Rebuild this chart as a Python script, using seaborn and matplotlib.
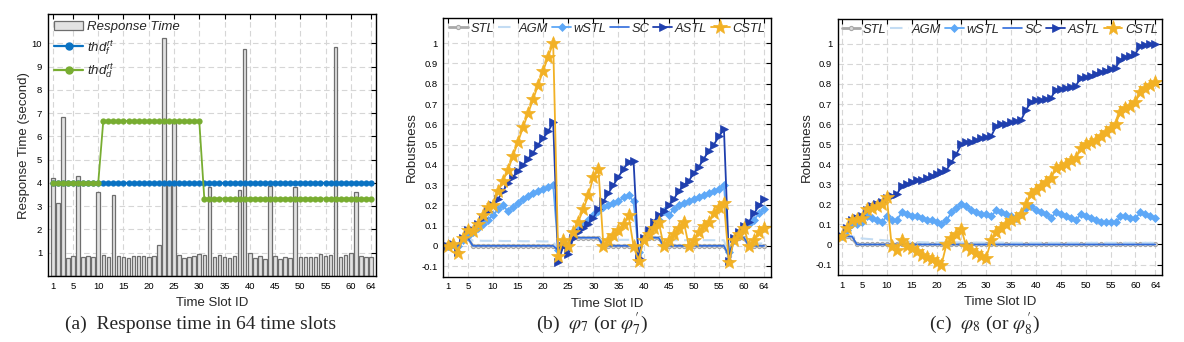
import matplotlib
matplotlib.use("Agg")
import matplotlib.pyplot as plt
import seaborn as sns
from matplotlib.patches import Patch
from matplotlib.lines import Line2D

sns.set_style("white")
plt.rcParams["font.family"] = ["Liberation Sans", "DejaVu Sans"]
plt.rcParams["mathtext.fontset"] = "custom"
plt.rcParams["mathtext.rm"] = "Liberation Sans"
plt.rcParams["mathtext.it"] = "Liberation Sans:italic"
plt.rcParams["mathtext.bf"] = "Liberation Sans:bold"

# ---------------- data ----------------
slots = list(range(1, 65))
xtick_vals = [1, 5, 10, 15, 20, 25, 30, 35, 40, 45, 50, 55, 60, 64]

response_time = [4.2, 3.13, 6.85, 0.77, 0.85, 4.3, 0.83, 0.87, 0.83, 3.6,
                 0.9, 0.83, 3.48, 0.87, 0.83, 0.78, 0.87, 0.87, 0.87, 0.83,
                 0.87, 1.33, 10.25, 4.0, 6.65, 0.91, 0.78, 0.83, 0.86, 0.95,
                 0.9, 3.82, 0.82, 0.9, 0.82, 0.78, 0.85, 3.68, 9.78, 0.97,
                 0.78, 0.85, 0.75, 3.87, 0.85, 0.74, 0.82, 0.78, 3.82, 0.82,
                 0.82, 0.82, 0.82, 0.94, 0.85, 0.9, 9.83, 0.82, 0.9, 0.98,
                 3.63, 0.85, 0.8, 0.8]

thd_f = [4.0, 4.0, 4.0, 4.0, 4.0, 4.0, 4.0, 4.0, 4.0, 4.0,
         4.0, 4.0, 4.0, 4.0, 4.0, 4.0, 4.0, 4.0, 4.0, 4.0,
         4.0, 4.0, 4.0, 4.0, 4.0, 4.0, 4.0, 4.0, 4.0, 4.0,
         4.0, 4.0, 4.0, 4.0, 4.0, 4.0, 4.0, 4.0, 4.0, 4.0,
         4.0, 4.0, 4.0, 4.0, 4.0, 4.0, 4.0, 4.0, 4.0, 4.0,
         4.0, 4.0, 4.0, 4.0, 4.0, 4.0, 4.0, 4.0, 4.0, 4.0,
         4.0, 4.0, 4.0, 4.0]

thd_d = [4.0, 4.0, 4.0, 4.0, 4.0, 4.0, 4.0, 4.0, 4.0, 4.0,
         6.67, 6.67, 6.67, 6.67, 6.67, 6.67, 6.67, 6.67, 6.67, 6.67,
         6.67, 6.67, 6.67, 6.67, 6.67, 6.67, 6.67, 6.67, 6.67, 6.67,
         3.33, 3.33, 3.33, 3.33, 3.33, 3.33, 3.33, 3.33, 3.33, 3.33,
         3.33, 3.33, 3.33, 3.33, 3.33, 3.33, 3.33, 3.33, 3.33, 3.33,
         3.33, 3.33, 3.33, 3.33, 3.33, 3.33, 3.33, 3.33, 3.33, 3.33,
         3.33, 3.33, 3.33, 3.33]

rob_ticks = [-0.1, 0, 0.1, 0.2, 0.3, 0.4, 0.5, 0.6, 0.7, 0.8, 0.9, 1]
rob_tick_labels = ["-0.1", "0", "0.1", "0.2", "0.3", "0.4", "0.5", "0.6", "0.7", "0.8", "0.9", "1"]

# (b) phi_7
b_stl = [0.0, 0.0, 0.0, 0.04, 0.04, 0.0, 0.0, 0.0, 0.0, 0.0,
         0.0, 0.0, 0.0, 0.0, 0.0, 0.0, 0.0, 0.0, 0.0, 0.0,
         0.0, 0.0, -0.02, 0.0, -0.02, 0.04, 0.04, 0.04, 0.04, 0.04,
         0.04, 0.0, 0.0, 0.0, 0.0, 0.0, 0.0, 0.0, -0.05, 0.04,
         0.04, 0.04, 0.04, 0.0, 0.0, 0.0, 0.0, 0.0, 0.0, 0.0,
         0.0, 0.0, 0.0, 0.0, 0.0, 0.0, -0.05, 0.04, 0.04, 0.04,
         0.0, 0.0, 0.0, 0.0]
b_agm = [0.0, 0.005, 0.0, 0.04, 0.04, 0.026, 0.026, 0.025, 0.025, 0.025,
         0.025, 0.024, 0.024, 0.024, 0.024, 0.023, 0.023, 0.023, 0.023, 0.022,
         0.022, 0.022, -0.02, 0.01, 0.0, 0.04, 0.04, 0.04, 0.04, 0.04,
         0.04, 0.03, 0.03, 0.03, 0.03, 0.03, 0.03, 0.03, -0.05, 0.04,
         0.04, 0.04, 0.04, 0.028, 0.028, 0.028, 0.028, 0.028, 0.028, 0.028,
         0.028, 0.028, 0.028, 0.028, 0.028, 0.028, -0.05, 0.04, 0.04, 0.04,
         0.012, 0.012, 0.012, 0.012]
b_wstl = [0.0, 0.01, 0.0, 0.03, 0.05, 0.07, 0.09, 0.11, 0.13, 0.15,
          0.18, 0.2, 0.17, 0.19, 0.21, 0.23, 0.245, 0.26, 0.27, 0.28,
          0.29, 0.3, -0.02, 0.02, 0.0, 0.05, 0.08, 0.11, 0.13, 0.15,
          0.17, 0.19, 0.2, 0.21, 0.22, 0.24, 0.25, 0.22, -0.03, 0.04,
          0.07, 0.1, 0.13, 0.17, 0.15, 0.18, 0.2, 0.21, 0.22, 0.23,
          0.24, 0.25, 0.26, 0.27, 0.28, 0.3, -0.03, 0.03, 0.06, 0.09,
          0.11, 0.13, 0.16, 0.18]
b_sc = [0.0, 0.0, 0.0, 0.04, 0.04, 0.0, 0.0, 0.0, 0.0, 0.0,
        0.0, 0.0, 0.0, 0.0, 0.0, 0.0, 0.0, 0.0, 0.0, 0.0,
        0.0, 0.0, -0.02, 0.0, -0.02, 0.04, 0.04, 0.04, 0.04, 0.04,
        0.04, 0.0, 0.0, 0.0, 0.0, 0.0, 0.0, 0.0, -0.05, 0.04,
        0.04, 0.04, 0.04, 0.0, 0.0, 0.0, 0.0, 0.0, 0.0, 0.0,
        0.0, 0.0, 0.0, 0.0, 0.0, 0.0, -0.05, 0.04, 0.04, 0.04,
        0.0, 0.0, 0.0, 0.0]
b_astl = [0.0, 0.01, -0.03, 0.04, 0.08, 0.08, 0.11, 0.14, 0.17, 0.2,
          0.23, 0.27, 0.31, 0.34, 0.37, 0.4, 0.43, 0.46, 0.5, 0.53,
          0.565, 0.61, -0.08, 0.0, -0.04, 0.04, 0.07, 0.09, 0.11, 0.14,
          0.18, 0.22, 0.26, 0.3, 0.34, 0.38, 0.415, 0.42, -0.06, 0.04,
          0.08, 0.12, 0.15, 0.17, 0.2, 0.23, 0.27, 0.3, 0.32, 0.36,
          0.39, 0.43, 0.47, 0.5, 0.54, 0.575, -0.075, 0.04, 0.07, 0.1,
          0.12, 0.16, 0.2, 0.23]
b_cstl = [0.0, 0.01, -0.035, 0.04, 0.08, 0.075, 0.11, 0.15, 0.19, 0.2,
          0.27, 0.32, 0.375, 0.444, 0.514, 0.585, 0.654, 0.723, 0.794, 0.863,
          0.934, 1.0, -0.05, 0.03, 0.0, 0.07, 0.12, 0.18, 0.25, 0.34,
          0.38, 0.0, 0.03, 0.055, 0.08, 0.11, 0.15, 0.0, -0.075, 0.03,
          0.06, 0.09, 0.12, 0.0, 0.03, 0.06, 0.09, 0.12, 0.0, 0.03,
          0.07, 0.1, 0.12, 0.16, 0.19, 0.21, -0.08, 0.03, 0.06, 0.09,
          0.0, 0.03, 0.07, 0.09]

# (c) phi_8
c_stl = [0.04, 0.04, 0.03, 0.0, 0.0, 0.0, 0.0, 0.0, 0.0, 0.0,
         0.0, 0.0, 0.0, 0.0, 0.0, 0.0, 0.0, 0.0, 0.0, 0.0,
         0.0, 0.0, 0.0, 0.0, 0.0, 0.0, 0.0, 0.0, 0.0, 0.0,
         0.0, 0.0, 0.0, 0.0, 0.0, 0.0, 0.0, 0.0, 0.0, 0.0,
         0.0, 0.0, 0.0, 0.0, 0.0, 0.0, 0.0, 0.0, 0.0, 0.0,
         0.0, 0.0, 0.0, 0.0, 0.0, 0.0, 0.0, 0.0, 0.0, 0.0,
         0.0, 0.0, 0.0, 0.0]
c_agm = [0.04, 0.04, 0.04, 0.035, 0.03, 0.028, 0.026, 0.024, 0.022, 0.02,
         0.018, 0.016, 0.015, 0.014, 0.013, 0.012, 0.011, 0.01, 0.01, 0.01,
         0.01, 0.01, 0.01, 0.01, 0.01, 0.009, 0.009, 0.009, 0.009, 0.009,
         0.009, 0.009, 0.009, 0.009, 0.009, 0.008, 0.008, 0.008, 0.008, 0.008,
         0.008, 0.008, 0.008, 0.008, 0.008, 0.008, 0.008, 0.008, 0.008, 0.008,
         0.008, 0.008, 0.008, 0.008, 0.008, 0.008, 0.008, 0.008, 0.008, 0.008,
         0.008, 0.008, 0.008, 0.008]
c_wstl = [0.04, 0.07, 0.1, 0.1, 0.11, 0.14, 0.13, 0.12, 0.11, 0.14,
          0.12, 0.12, 0.16, 0.15, 0.14, 0.14, 0.13, 0.12, 0.12, 0.11,
          0.1, 0.12, 0.16, 0.18, 0.2, 0.19, 0.17, 0.16, 0.15, 0.15,
          0.14, 0.17, 0.16, 0.15, 0.14, 0.13, 0.15, 0.18, 0.19, 0.17,
          0.16, 0.15, 0.13, 0.16, 0.15, 0.14, 0.13, 0.12, 0.15, 0.14,
          0.13, 0.12, 0.11, 0.11, 0.11, 0.11, 0.14, 0.14, 0.13, 0.13,
          0.16, 0.15, 0.14, 0.13]
c_sc = [0.04, 0.04, 0.04, 0.0, 0.0, 0.0, 0.0, 0.0, 0.0, 0.0,
        0.0, 0.0, 0.0, 0.0, 0.0, 0.0, 0.0, 0.0, 0.0, 0.0,
        0.0, 0.0, 0.0, 0.0, 0.0, 0.0, 0.0, 0.0, 0.0, 0.0,
        0.0, 0.0, 0.0, 0.0, 0.0, 0.0, 0.0, 0.0, 0.0, 0.0,
        0.0, 0.0, 0.0, 0.0, 0.0, 0.0, 0.0, 0.0, 0.0, 0.0,
        0.0, 0.0, 0.0, 0.0, 0.0, 0.0, 0.0, 0.0, 0.0, 0.0,
        0.0, 0.0, 0.0, 0.0]
c_astl = [0.04, 0.08, 0.12, 0.13, 0.14, 0.17, 0.19, 0.2, 0.21, 0.23,
          0.24, 0.25, 0.29, 0.3, 0.31, 0.32, 0.32, 0.33, 0.34, 0.35,
          0.36, 0.37, 0.41, 0.45, 0.5, 0.51, 0.51, 0.52, 0.53, 0.535,
          0.54, 0.59, 0.6, 0.6, 0.61, 0.615, 0.62, 0.67, 0.71, 0.72,
          0.72, 0.725, 0.73, 0.77, 0.775, 0.78, 0.785, 0.79, 0.83, 0.835,
          0.84, 0.85, 0.86, 0.865, 0.875, 0.88, 0.92, 0.935, 0.94, 0.95,
          0.99, 0.995, 1.0, 1.0]
c_cstl = [0.04, 0.08, 0.12, 0.125, 0.13, 0.175, 0.18, 0.19, 0.2, 0.235,
          -0.01, -0.03, 0.02, -0.01, -0.02, -0.035, -0.05, -0.06, -0.07, -0.085,
          -0.1, 0.0, 0.03, 0.05, 0.075, -0.01, -0.03, -0.045, -0.055, -0.065,
          0.02, 0.06, 0.08, 0.1, 0.12, 0.13, 0.15, 0.2, 0.25, 0.27,
          0.29, 0.31, 0.33, 0.38, 0.39, 0.4, 0.42, 0.43, 0.48, 0.5,
          0.51, 0.52, 0.54, 0.56, 0.58, 0.6, 0.66, 0.68, 0.69, 0.71,
          0.76, 0.78, 0.795, 0.81]

series_names = ["STL", "AGM", "wSTL", "SC", "ASTL", "CSTL"]
series_style = {
    "STL":  dict(color="#A8A8A8", linewidth=2.0, marker="o", markersize=3,
                 markerfacecolor="#D8D8D8", markeredgecolor="#A8A8A8", markeredgewidth=0.8),
    "AGM":  dict(color="#C3DCF3", linewidth=1.5, linestyle=(0, (6, 3))),
    "wSTL": dict(color="#5EA8F7", linewidth=1.3, marker="D", markersize=4,
                 markerfacecolor="#5EA8F7", markeredgecolor="#5EA8F7", markeredgewidth=0.5),
    "SC":   dict(color="#2F6BDB", linewidth=1.2),
    "ASTL": dict(color="#1F3FAE", linewidth=1.3, marker=">", markersize=6,
                 markerfacecolor="#1F3FAE", markeredgecolor="#1F3FAE", markeredgewidth=0.5),
    "CSTL": dict(color="#F2B125", linewidth=1.3, marker="*", markersize=10,
                 markerfacecolor="#F2B125", markeredgecolor="#F2B125", markeredgewidth=0.5),
}

grid_kw = dict(color="#D6D6D6", linestyle=(0, (5, 3)), linewidth=0.8)
tick_fs = 6.8
label_fs = 9.5


def style_axes(ax):
    ax.set_axisbelow(True)
    ax.grid(True, **grid_kw)
    ax.tick_params(direction="in", top=True, right=True, length=3.5, width=0.8,
                   labelsize=tick_fs, pad=4, colors="black")
    for sp in ax.spines.values():
        sp.set_visible(True)
        sp.set_color("black")
        sp.set_linewidth(1.0)
    ax.set_xticks(xtick_vals)
    ax.set_xticklabels([str(v) for v in xtick_vals])
    ax.set_xlabel("Time Slot ID", fontsize=label_fs, labelpad=5)


fig = plt.figure(figsize=(11.84, 3.42), dpi=100)

# ---------------- (a) ----------------
ax_a = fig.add_axes([0.0403, 0.193, 0.2773, 0.765])
sns.barplot(x=slots, y=response_time, native_scale=True, width=0.7,
            color="#E2E2E2", edgecolor="#6E6E6E", linewidth=0.9,
            saturation=1, errorbar=None, ax=ax_a)
sns.lineplot(x=slots, y=thd_f, ax=ax_a, color="#0A72C2", linewidth=1.6,
             marker="o", markersize=4.5, markerfacecolor="#0A72C2",
             markeredgecolor="#0A72C2", markeredgewidth=0, errorbar=None, legend=False)
sns.lineplot(x=slots, y=thd_d, ax=ax_a, color="#78AD31", linewidth=1.3,
             marker="o", markersize=4.5, markerfacecolor="#78AD31",
             markeredgecolor="#78AD31", markeredgewidth=0, errorbar=None, legend=False)
style_axes(ax_a)
ax_a.set_xlim(0, 65)
ax_a.set_ylim(0, 11.25)
ax_a.set_yticks([1, 2, 3, 4, 5, 6, 7, 8, 9, 10])
ax_a.set_yticklabels(["1", "2", "3", "4", "5", "6", "7", "8", "9", "10"])
ax_a.set_ylabel("Response Time (second)", fontsize=label_fs, labelpad=1)
handles_a = [Patch(facecolor="#E2E2E2", edgecolor="#6E6E6E", linewidth=0.9),
             Line2D([], [], color="#0A72C2", linewidth=1.6, marker="o", markersize=5),
             Line2D([], [], color="#78AD31", linewidth=1.6, marker="o", markersize=5)]
labels_a = ["Response Time", r"$thd_f^{rt}$", r"$thd_d^{rt}$"]
ax_a.legend(handles_a, labels_a, loc="upper left", frameon=False,
            prop={"style": "italic", "size": 9.5}, handlelength=2.2,
            handletextpad=0.3, labelspacing=0.35, borderaxespad=0.3,
            borderpad=0.2)

# ---------------- (b), (c) ----------------
def robust_panel(rect, data):
    ax = fig.add_axes(rect)
    for name in series_names:
        sns.lineplot(x=slots, y=data[name], ax=ax, errorbar=None, legend=False,
                     **series_style[name])
    style_axes(ax)
    ax.set_xlim(0.12, 65.3)
    ax.set_ylim(-0.152, 1.123)
    ax.set_yticks(rob_ticks)
    ax.set_yticklabels(rob_tick_labels)
    ax.set_ylabel("Robustness", fontsize=label_fs, labelpad=2.5)
    handles = [Line2D([], [], **series_style[n]) for n in series_names]
    for h, n in zip(handles, series_names):
        if n == "CSTL":
            h.set_markersize(11)
    ax.legend(handles, series_names, loc="upper center", ncol=6, frameon=False,
              prop={"style": "italic", "size": 9.3}, handlelength=1.45,
              handletextpad=0.2, columnspacing=0.3, borderaxespad=0.15,
              borderpad=0.2, bbox_to_anchor=(0.5, 1.0))
    return ax


data_b = {"STL": b_stl, "AGM": b_agm, "wSTL": b_wstl, "SC": b_sc, "ASTL": b_astl, "CSTL": b_cstl}
data_c = {"STL": c_stl, "AGM": c_agm, "wSTL": c_wstl, "SC": c_sc, "ASTL": c_astl, "CSTL": c_cstl}
ax_b = robust_panel([0.3744, 0.191, 0.2765, 0.7555], data_b)
ax_c = robust_panel([0.7075, 0.196, 0.2737, 0.748], data_c)

# ---------------- captions ----------------
cap_kw = dict(ha="center", va="center", fontsize=14, family="Liberation Serif",
              math_fontfamily="stix")
fig.text(0.169, 0.053, "(a)  Response time in 64 time slots", **cap_kw)
fig.text(0.500, 0.053, r"(b)  $\varphi_7$ (or $\varphi^{\prime}_{7}$)", **cap_kw)
fig.text(0.832, 0.053, r"(c)  $\varphi_8$ (or $\varphi^{\prime}_{8}$)", **cap_kw)

fig.savefig("out.png", dpi=100)
